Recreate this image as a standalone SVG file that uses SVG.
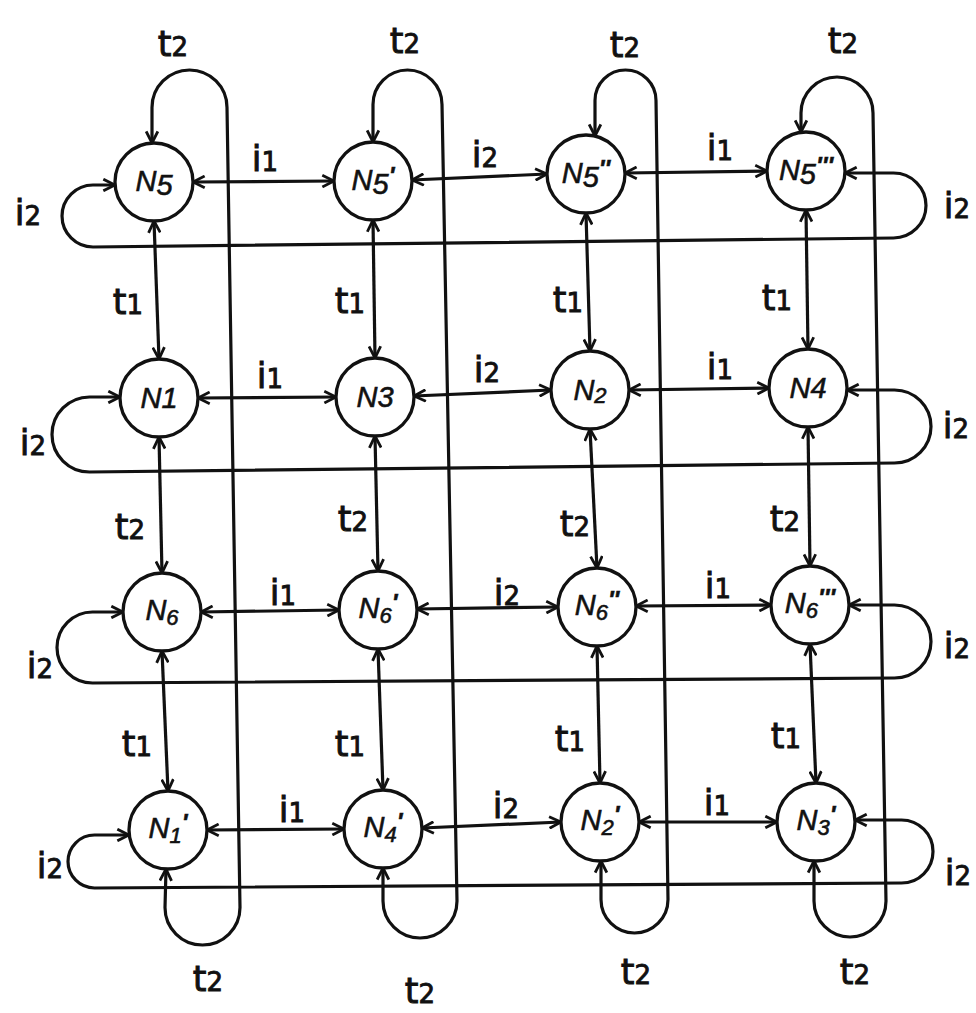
<svg xmlns="http://www.w3.org/2000/svg" width="976" height="1013" viewBox="0 0 976 1013">
<style>
.c{fill:#fff;stroke:#111;stroke-width:3.3}
.e{fill:none;stroke:#111;stroke-width:3.2;stroke-linejoin:round;marker-start:url(#a);marker-end:url(#a)}
.nl{font-family:"Liberation Sans",Arial,sans-serif;font-size:29px;text-anchor:middle;fill:#111;stroke:#111;stroke-width:0.6;font-style:italic}
.s{font-size:22px}
.p{font-size:24px;font-weight:bold}
.lb{font-family:"DejaVu Sans","Liberation Sans",sans-serif;font-size:35px;text-anchor:middle;fill:#111;stroke:#111;stroke-width:0.9}
.d{font-size:26px}
</style>
<defs>
<marker id="a" viewBox="0 0 12 12" refX="11" refY="6" markerWidth="14" markerHeight="14" markerUnits="userSpaceOnUse" orient="auto-start-reverse">
<path d="M1,1 L11,6 L1,11" fill="none" stroke="#111" stroke-width="2.4"/>
</marker>
</defs>
<rect width="976" height="1013" fill="#fff"/>
<g id="connectors">
<path class="e" d="M193,182 L334,181"/>
<path class="e" d="M412,180 L547,174"/>
<path class="e" d="M625,173 L767,171"/>
<path class="e" d="M198,398 L336,397"/>
<path class="e" d="M414,396 L551,390"/>
<path class="e" d="M629,390 L769,388"/>
<path class="e" d="M201,612 L339,610"/>
<path class="e" d="M417,609 L558,607"/>
<path class="e" d="M636,606 L771,605"/>
<path class="e" d="M207,830 L344,829"/>
<path class="e" d="M422,828 L561,822"/>
<path class="e" d="M639,822 L777,822"/>
<path class="e" d="M154,221 L159,359"/>
<path class="e" d="M159,437 L162,573"/>
<path class="e" d="M162,651 L168,791"/>
<path class="e" d="M373,220 L375,358"/>
<path class="e" d="M375,436 L378,571"/>
<path class="e" d="M378,649 L383,790"/>
<path class="e" d="M586,213 L590,351"/>
<path class="e" d="M590,429 L597,568"/>
<path class="e" d="M597,646 L600,783"/>
<path class="e" d="M806,210 L808,349"/>
<path class="e" d="M808,427 L810,566"/>
<path class="e" d="M810,644 L816,783"/>
<path class="e" d="M152,143 L152,107.5 A37.5,37.5 0 0 1 227,107.5 L240,907.5 A37.5,37.5 0 0 1 165,907.5 L166,869"/>
<path class="e" d="M373,142 L373,104.5 A34.5,34.5 0 0 1 442,104.5 L457,901 A37,37 0 0 1 383,901 L383,868"/>
<path class="e" d="M595,136 L595,100.5 A30.5,30.5 0 0 1 656,100.5 L668,899.5 A33.5,33.5 0 0 1 601,899.5 L601,861"/>
<path class="e" d="M801,132 L801,113 A36,36 0 0 1 873,113 L886,901 A36,36 0 0 1 814,901 L814,861"/>
<path class="e" d="M115,185 L93,185 A31,31 0 0 0 93,247 L893.5,238 A32.5,32.5 0 0 0 893.5,173 L845,173"/>
<path class="e" d="M120,397 L89.5,397 A37.5,37.5 0 0 0 89.5,472 L894.5,463 A36.5,36.5 0 0 0 894.5,390 L847,390"/>
<path class="e" d="M123,612 L92.5,612 A35.5,35.5 0 0 0 92.5,683 L894.5,678 A36.5,36.5 0 0 0 894.5,605 L849,605"/>
<path class="e" d="M129,835 L94.5,835 A26.5,26.5 0 0 0 94.5,888 L901.5,883 A31.5,31.5 0 0 0 901.5,820 L855,820"/>
</g>
<g id="labels">
<text class="lb" x="173" y="56">t<tspan class="d">2</tspan></text>
<text class="lb" x="405" y="53">t<tspan class="d">2</tspan></text>
<text class="lb" x="625" y="57">t<tspan class="d">2</tspan></text>
<text class="lb" x="843" y="53">t<tspan class="d">2</tspan></text>
<text class="lb" x="128" y="314">t<tspan class="d">1</tspan></text>
<text class="lb" x="350" y="313">t<tspan class="d">1</tspan></text>
<text class="lb" x="568" y="312">t<tspan class="d">1</tspan></text>
<text class="lb" x="777" y="310">t<tspan class="d">1</tspan></text>
<text class="lb" x="130" y="539">t<tspan class="d">2</tspan></text>
<text class="lb" x="353" y="531">t<tspan class="d">2</tspan></text>
<text class="lb" x="575" y="536">t<tspan class="d">2</tspan></text>
<text class="lb" x="785" y="531">t<tspan class="d">2</tspan></text>
<text class="lb" x="137" y="756">t<tspan class="d">1</tspan></text>
<text class="lb" x="350" y="756">t<tspan class="d">1</tspan></text>
<text class="lb" x="570" y="751">t<tspan class="d">1</tspan></text>
<text class="lb" x="786" y="748">t<tspan class="d">1</tspan></text>
<text class="lb" x="208" y="991">t<tspan class="d">2</tspan></text>
<text class="lb" x="420" y="1003">t<tspan class="d">2</tspan></text>
<text class="lb" x="636" y="984">t<tspan class="d">2</tspan></text>
<text class="lb" x="855" y="984">t<tspan class="d">2</tspan></text>
<text class="lb" x="265" y="171">i<tspan class="d">1</tspan></text>
<text class="lb" x="485" y="167">i<tspan class="d">2</tspan></text>
<text class="lb" x="720" y="160">i<tspan class="d">1</tspan></text>
<text class="lb" x="28" y="225">i<tspan class="d">2</tspan></text>
<text class="lb" x="957" y="218">i<tspan class="d">2</tspan></text>
<text class="lb" x="270" y="388">i<tspan class="d">1</tspan></text>
<text class="lb" x="487" y="382">i<tspan class="d">2</tspan></text>
<text class="lb" x="720" y="379">i<tspan class="d">1</tspan></text>
<text class="lb" x="33" y="455">i<tspan class="d">2</tspan></text>
<text class="lb" x="956" y="438">i<tspan class="d">2</tspan></text>
<text class="lb" x="283" y="605">i<tspan class="d">1</tspan></text>
<text class="lb" x="507" y="605">i<tspan class="d">2</tspan></text>
<text class="lb" x="718" y="598">i<tspan class="d">1</tspan></text>
<text class="lb" x="40" y="678">i<tspan class="d">2</tspan></text>
<text class="lb" x="957" y="658">i<tspan class="d">2</tspan></text>
<text class="lb" x="292" y="822">i<tspan class="d">1</tspan></text>
<text class="lb" x="506" y="818">i<tspan class="d">2</tspan></text>
<text class="lb" x="717" y="815">i<tspan class="d">1</tspan></text>
<text class="lb" x="50" y="878">i<tspan class="d">2</tspan></text>
<text class="lb" x="958" y="885">i<tspan class="d">2</tspan></text>
</g>
<g id="N5"><circle class="c" cx="154" cy="182" r="39"/><text class="nl" x="154" y="191">N<tspan dy="4">5</tspan></text></g>
<g id="N5p"><circle class="c" cx="373" cy="181" r="39"/><text class="nl" x="373" y="190">N<tspan dy="4">5</tspan><tspan class="p" dy="-10">'</tspan></text></g>
<g id="N5pp"><circle class="c" cx="586" cy="174" r="39"/><text class="nl" x="586" y="183">N<tspan dy="4">5</tspan><tspan class="p" dy="-10">''</tspan></text></g>
<g id="N5ppp"><circle class="c" cx="806" cy="171" r="39"/><text class="nl" x="806" y="180">N<tspan dy="4">5</tspan><tspan class="p" dy="-10">'''</tspan></text></g>
<g id="N1"><circle class="c" cx="159" cy="398" r="39"/><text class="nl" x="159" y="408">N1</text></g>
<g id="N3"><circle class="c" cx="375" cy="397" r="39"/><text class="nl" x="375" y="407">N3</text></g>
<g id="N2"><circle class="c" cx="590" cy="390" r="39"/><text class="nl" x="590" y="400">N<tspan class="s" dy="3">2</tspan></text></g>
<g id="N4"><circle class="c" cx="808" cy="388" r="39"/><text class="nl" x="808" y="398">N4</text></g>
<g id="N6"><circle class="c" cx="162" cy="612" r="39"/><text class="nl" x="162" y="620">N<tspan class="s" dy="5">6</tspan></text></g>
<g id="N6p"><circle class="c" cx="378" cy="610" r="39"/><text class="nl" x="378" y="618">N<tspan class="s" dy="5">6</tspan><tspan class="p" dy="-12">'</tspan></text></g>
<g id="N6pp"><circle class="c" cx="597" cy="607" r="39"/><text class="nl" x="597" y="615">N<tspan class="s" dy="5">6</tspan><tspan class="p" dy="-12">''</tspan></text></g>
<g id="N6ppp"><circle class="c" cx="810" cy="605" r="39"/><text class="nl" x="810" y="613">N<tspan class="s" dy="5">6</tspan><tspan class="p" dy="-12">'''</tspan></text></g>
<g id="N1p"><circle class="c" cx="168" cy="830" r="39"/><text class="nl" x="168" y="838">N<tspan class="s" dy="5">1</tspan><tspan class="p" dy="-12">'</tspan></text></g>
<g id="N4p"><circle class="c" cx="383" cy="829" r="39"/><text class="nl" x="383" y="837">N<tspan class="s" dy="5">4</tspan><tspan class="p" dy="-12">'</tspan></text></g>
<g id="N2p"><circle class="c" cx="600" cy="822" r="39"/><text class="nl" x="600" y="830">N<tspan class="s" dy="5">2</tspan><tspan class="p" dy="-12">'</tspan></text></g>
<g id="N3p"><circle class="c" cx="816" cy="822" r="39"/><text class="nl" x="816" y="830">N<tspan class="s" dy="5">3</tspan><tspan class="p" dy="-12">'</tspan></text></g>
</svg>
